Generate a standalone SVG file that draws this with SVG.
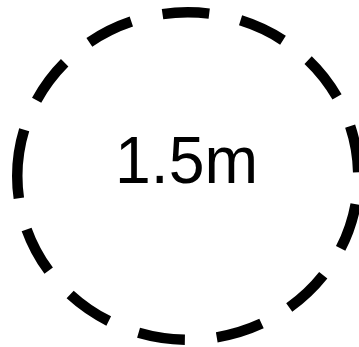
<svg xmlns="http://www.w3.org/2000/svg" width="359" height="347" viewBox="0 0 359 347">
  <style>
    .ring { fill: none; stroke: #000; stroke-width: 10.5; stroke-dasharray: 16.1 11; stroke-linecap: butt; }
    .label { font-family: "Liberation Sans", Arial, sans-serif; font-size: 67px; fill: #000; text-anchor: middle; }
  </style>
  <rect width="359" height="347" fill="#fff"/>
  <g id="circle">
    <path class="ring" pathLength="360" d="M17.25,176 A170.5,163.75 0 0 1 358.25,176 A170.5,163.75 0 0 1 17.25,176"/>
  </g>
  <g id="label">
    <text class="label" x="186.5" y="183" textLength="143" lengthAdjust="spacingAndGlyphs">1.5m</text>
  </g>
</svg>
